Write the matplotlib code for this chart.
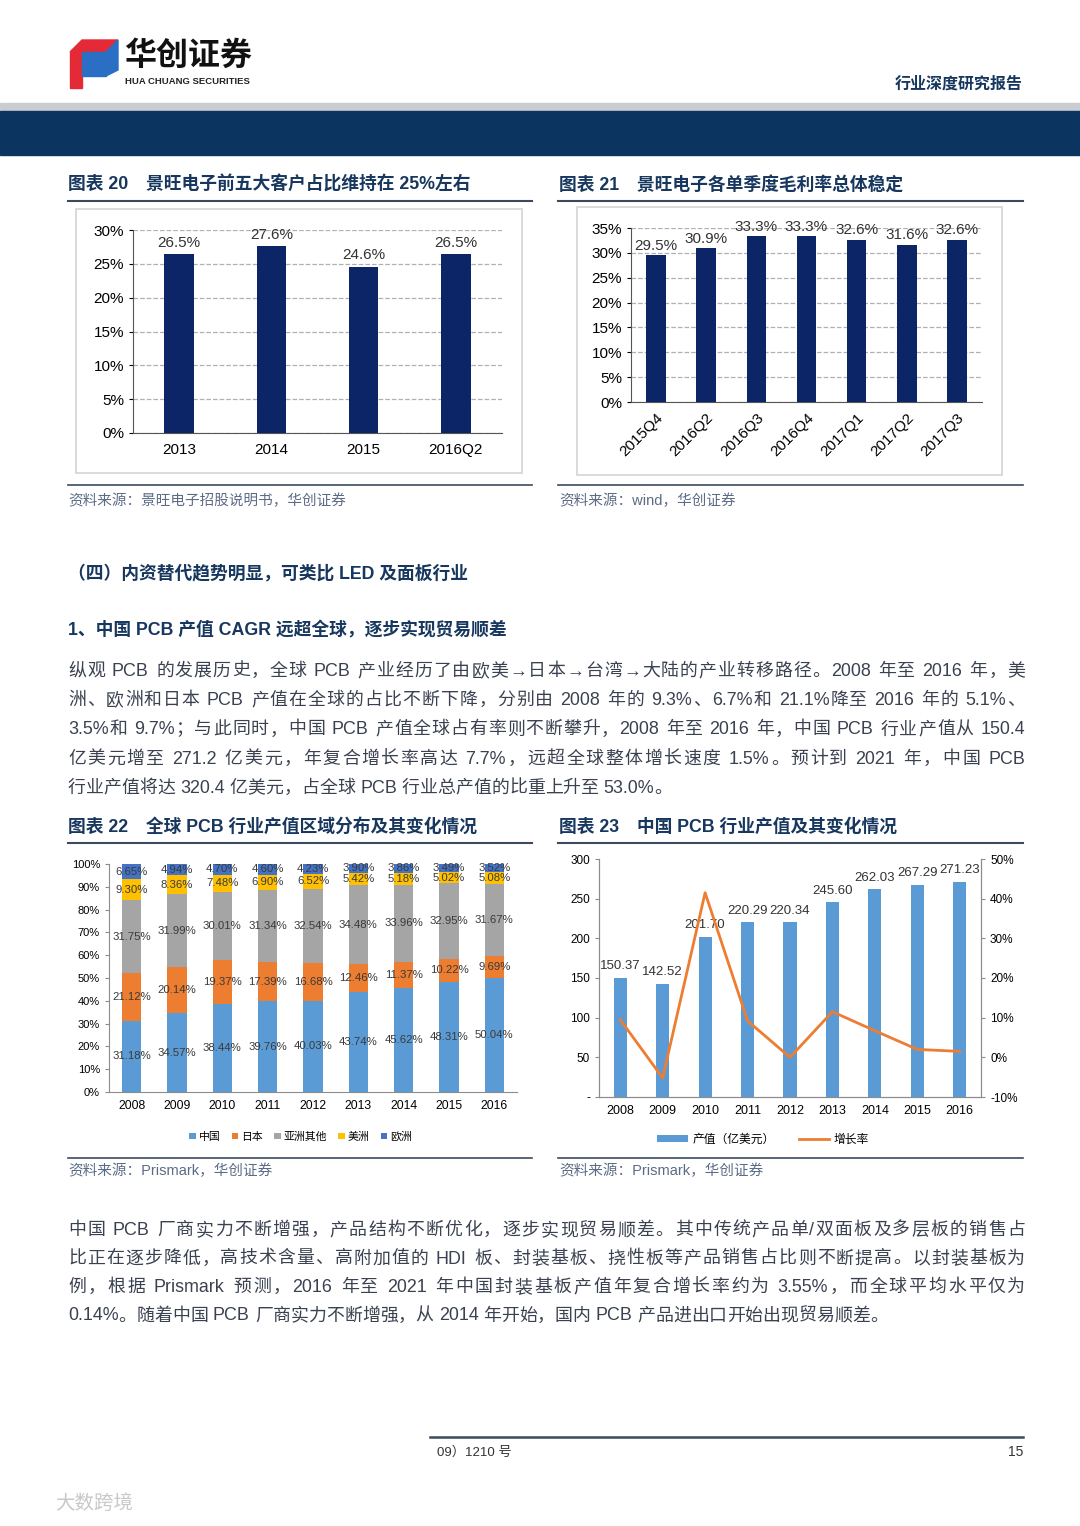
import matplotlib
matplotlib.use('Agg')
import matplotlib.pyplot as plt
from matplotlib.patches import Rectangle, Polygon
from matplotlib.lines import Line2D
from matplotlib.ticker import FuncFormatter

plt.rcParams['font.family'] = ['Liberation Sans', 'Noto Sans CJK SC', 'DejaVu Sans']

# ---- data ----
top_years = ['2013', '2014', '2015', '2016Q2']
top_share = [26.5, 27.6, 24.6, 26.5]

quarters = ['2015Q4', '2016Q2', '2016Q3', '2016Q4', '2017Q1', '2017Q2', '2017Q3']
gross_margin = [29.5, 30.9, 33.3, 33.3, 32.6, 31.6, 32.6]

years = ['2008', '2009', '2010', '2011', '2012', '2013', '2014', '2015', '2016']
regions = ['中国', '日本', '亚洲其他', '美洲', '欧洲']
china = [31.18, 34.57, 38.44, 39.76, 40.03, 43.74, 45.62, 48.31, 50.04]
japan = [21.12, 20.14, 19.37, 17.39, 16.68, 12.46, 11.37, 10.22, 9.69]
asia_other = [31.75, 31.99, 30.01, 31.34, 32.54, 34.48, 33.96, 32.95, 31.67]
america = [9.30, 8.36, 7.48, 6.90, 6.52, 5.42, 5.18, 5.02, 5.08]
europe = [6.65, 4.94, 4.70, 4.60, 4.23, 3.90, 3.86, 3.49, 3.52]
region_colors = ['#5b9bd5', '#ed7d31', '#a5a5a5', '#ffc000', '#4472c4']

cn_output = [150.37, 142.52, 201.70, 220.29, 220.34, 245.60, 262.03, 267.29, 271.23]
cn_growth = [9.5, -5.2, 41.5, 9.2, 0.0, 11.5, 6.7, 2.0, 1.5]

para1 = [
    '纵观 PCB 的发展历史，全球 PCB 产业经历了由欧美→日本→台湾→大陆的产业转移路径。2008 年至 2016 年，美',
    '洲、欧洲和日本 PCB 产值在全球的占比不断下降，分别由 2008 年的 9.3%、6.7%和 21.1%降至 2016 年的 5.1%、',
    '3.5%和 9.7%；与此同时，中国 PCB 产值全球占有率则不断攀升，2008 年至 2016 年，中国 PCB 行业产值从 150.4',
    '亿美元增至 271.2 亿美元，年复合增长率高达 7.7%，远超全球整体增长速度 1.5%。预计到 2021 年，中国 PCB',
    '行业产值将达 320.4 亿美元，占全球 PCB 行业总产值的比重上升至 53.0%。',
]
para2 = [
    '中国 PCB 厂商实力不断增强，产品结构不断优化，逐步实现贸易顺差。其中传统产品单/双面板及多层板的销售占',
    '比正在逐步降低，高技术含量、高附加值的 HDI 板、封装基板、挠性板等产品销售占比则不断提高。以封装基板为',
    '例，根据 Prismark 预测，2016 年至 2021 年中国封装基板产值年复合增长率约为 3.55%，而全球平均水平仅为',
    '0.14%。随着中国 PCB 厂商实力不断增强，从 2014 年开始，国内 PCB 产品进出口开始出现贸易顺差。',
]

W, H = 1080, 1526
NAVY = '#17375e'
BAR_NAVY = '#0c2567'
TEXT = '#3a4150'
SRC = '#5c6b86'

fig = plt.figure(figsize=(W / 100, H / 100), dpi=100)
renderer = fig.canvas.get_renderer()


def fx(x):
    return x / W


def fy(y):
    return 1 - y / H


def rect(l, t, r, b):
    return [l / W, 1 - b / H, (r - l) / W, (b - t) / H]


def txt(x, y, s, **kw):
    kw.setdefault('va', 'center')
    fig.text(fx(x), fy(y), s, **kw)


def hline(x0, x1, y, color, lw):
    fig.add_artist(Line2D([fx(x0), fx(x1)], [fy(y), fy(y)], color=color, lw=lw))


def box(l, t, r, b, color='#d4d4d4'):
    fig.add_artist(Rectangle((fx(l), fy(b)), fx(r - l), (b - t) / H,
                             fill=False, ec=color, lw=1.2))


def tokens(line):
    # latin runs stay together, every CJK sign and space is its own token
    out, run = [], ''
    for c in line:
        if ord(c) < 128 and c != ' ':
            run += c
        else:
            if run:
                out.append(run)
                run = ''
            out.append(c)
    if run:
        out.append(run)
    return out


def width(s, **kw):
    t = fig.text(0, 0, s, **kw)
    w = t.get_window_extent(renderer).width
    t.remove()
    return w


def paragraph(lines, x0, x1, y0, step, **kw):
    for k, line in enumerate(lines):
        y = y0 + k * step + 6
        toks = tokens(line)
        ws = [width(t, **kw) if t != ' ' else width('a a', **kw) - width('aa', **kw)
              for t in toks]
        last = k == len(lines) - 1
        extra = 0 if last else (x1 - x0 - sum(ws)) / (len(toks) - 1)
        x = x0
        for t, w in zip(toks, ws):
            if t != ' ':
                fig.text(fx(x), fy(y), t, va='baseline', **kw)
            x += w + extra


# ---- header ----
fig.add_artist(Polygon([(fx(70), fy(52)), (fx(82), fy(40)), (fx(118), fy(40)),
                        (fx(106), fy(52))], closed=True, color='#e32a36'))
fig.add_artist(Polygon([(fx(70), fy(52)), (fx(82), fy(52)), (fx(82), fy(88)),
                        (fx(70), fy(88))], closed=True, color='#e32a36'))
fig.add_artist(Polygon([(fx(82), fy(52)), (fx(106), fy(52)), (fx(106), fy(76)),
                        (fx(82), fy(76))], closed=True, color='#2a6fc4'))
fig.add_artist(Polygon([(fx(106), fy(52)), (fx(118), fy(40)), (fx(118), fy(70)),
                        (fx(106), fy(76))], closed=True, color='#2a6fc4'))
txt(124, 57, '华创证券', fontsize=23, fontweight='bold', color='#111111')
txt(125, 81, 'HUA CHUANG SECURITIES', fontsize=6.8, fontweight='bold', color='#222222')
txt(1023, 84, '行业深度研究报告', fontsize=11.5, fontweight='bold', color=NAVY, ha='right')
fig.add_artist(Rectangle((0, fy(111)), 1, 8 / H, color='#c9cdd2'))
fig.add_artist(Rectangle((0, fy(155)), 1, 44 / H, color='#0c3461'))

# ---- chart titles row 1 ----
txt(68, 185, '图表 20　景旺电子前五大客户占比维持在 25%左右', fontsize=12.8,
    fontweight='bold', color=NAVY)
txt(559, 185, '图表 21　景旺电子各单季度毛利率总体稳定', fontsize=12.8,
    fontweight='bold', color=NAVY)
hline(68, 532, 201, '#3c4a5e', 1.5)
hline(558, 1023, 201, '#3c4a5e', 1.5)

pct = FuncFormatter(lambda v, p: f'{v:.0f}%')

# chart 20
box(76, 209, 522, 473)
ax1 = fig.add_axes(rect(133, 230, 502, 433))
x1 = range(len(top_years))
ax1.bar(x1, top_share, width=0.32, color=BAR_NAVY, zorder=3)
for i, v in enumerate(top_share):
    ax1.annotate(f'{v}%', (i, v), xytext=(0, 3), textcoords='offset points',
                 ha='center', va='bottom', fontsize=11, color='#333333')
ax1.set_xlim(-0.5, 3.5)
ax1.set_ylim(0, 30)
ax1.set_yticks(range(0, 31, 5))
ax1.yaxis.set_major_formatter(pct)
ax1.set_xticks(list(x1))
ax1.set_xticklabels(top_years)
ax1.grid(axis='y', linestyle='--', color='#b0b0b0', lw=0.9)
for s in ['top', 'right']:
    ax1.spines[s].set_visible(False)
for s in ['left', 'bottom']:
    ax1.spines[s].set_color('#555555')
ax1.tick_params(axis='x', length=0, labelsize=11, pad=7)
ax1.tick_params(axis='y', length=3, labelsize=11)

# chart 21
box(577, 207, 1002, 475)
ax2 = fig.add_axes(rect(631, 228, 982, 402))
x2 = range(len(quarters))
ax2.bar(x2, gross_margin, width=0.39, color=BAR_NAVY, zorder=3)
for i, v in enumerate(gross_margin):
    ax2.annotate(f'{v}%', (i, v), xytext=(0, 2), textcoords='offset points',
                 ha='center', va='bottom', fontsize=11, color='#333333')
ax2.set_xlim(-0.5, 6.5)
ax2.set_ylim(0, 35)
ax2.set_yticks(range(0, 36, 5))
ax2.yaxis.set_major_formatter(pct)
ax2.set_xticks(list(x2))
ax2.set_xticklabels(quarters, rotation=45, ha='right', rotation_mode='anchor')
ax2.grid(axis='y', linestyle='--', color='#b0b0b0', lw=0.9)
for s in ['top', 'right']:
    ax2.spines[s].set_visible(False)
for s in ['left', 'bottom']:
    ax2.spines[s].set_color('#555555')
ax2.tick_params(axis='x', length=0, labelsize=11, pad=6)
ax2.tick_params(axis='y', length=3, labelsize=11)

hline(68, 532, 485, '#3c4a5e', 1.2)
hline(558, 1023, 485, '#3c4a5e', 1.2)
txt(68, 501, '资料来源：景旺电子招股说明书，华创证券', fontsize=10.5, color=SRC)
txt(559, 501, '资料来源：wind，华创证券', fontsize=10.5, color=SRC)

# ---- section text ----
txt(68, 574, '（四）内资替代趋势明显，可类比 LED 及面板行业', fontsize=12.8,
    fontweight='bold', color=NAVY)
txt(68, 630, '1、中国 PCB 产值 CAGR 远超全球，逐步实现贸易顺差', fontsize=12.8,
    fontweight='bold', color=NAVY)
paragraph(para1, 68, 1025, 670, 29.2, fontsize=12.9, color=TEXT)

# ---- chart titles row 2 ----
txt(68, 827, '图表 22　全球 PCB 行业产值区域分布及其变化情况', fontsize=12.8,
    fontweight='bold', color=NAVY)
txt(559, 827, '图表 23　中国 PCB 行业产值及其变化情况', fontsize=12.8,
    fontweight='bold', color=NAVY)
hline(68, 532, 843, '#3c4a5e', 1.5)
hline(558, 1023, 843, '#3c4a5e', 1.5)

# chart 22
ax3 = fig.add_axes(rect(109, 864, 517, 1092))
x3 = list(range(len(years)))
bottom = [0] * len(years)
for name, vals, col in zip(regions, [china, japan, asia_other, america, europe], region_colors):
    ax3.bar(x3, vals, width=0.42, bottom=bottom, color=col, label=name, zorder=3)
    for i, v in enumerate(vals):
        ax3.text(i, bottom[i] + v / 2, f'{v:.2f}%', ha='center', va='center',
                 fontsize=8.2, color='#3a3a3a', zorder=4)
    bottom = [b + v for b, v in zip(bottom, vals)]
ax3.set_xlim(-0.5, 8.5)
ax3.set_ylim(0, 100)
ax3.set_yticks(range(0, 101, 10))
ax3.yaxis.set_major_formatter(pct)
ax3.set_xticks(x3)
ax3.set_xticklabels(years)
for s in ['top', 'right']:
    ax3.spines[s].set_visible(False)
for s in ['left', 'bottom']:
    ax3.spines[s].set_color('#8c8c8c')
ax3.tick_params(axis='x', length=0, labelsize=8.8, pad=6)
ax3.tick_params(axis='y', length=3, labelsize=8, color='#8c8c8c')
ax3.legend(loc='upper center', bbox_to_anchor=(0.47, -0.13), ncol=5, fontsize=7.8,
           frameon=False, handlelength=0.6, handleheight=0.6, handletextpad=0.3,
           columnspacing=1.0)

# chart 23
ax4 = fig.add_axes(rect(599, 859, 981, 1097))
x4 = list(range(len(years)))
ax4.bar(x4, cn_output, width=0.31, color='#5b9bd5', label='产值（亿美元）', zorder=3)
for i, v in enumerate(cn_output):
    ax4.annotate(f'{v:.2f}', (i, v), xytext=(0, 4), textcoords='offset points',
                 ha='center', va='bottom', fontsize=9.5, color='#333333', zorder=5)
ax4.set_xlim(-0.5, 8.5)
ax4.set_ylim(0, 300)
ax4.set_yticks(range(0, 301, 50))
ax4.yaxis.set_major_formatter(FuncFormatter(lambda v, p: '-' if v == 0 else f'{v:.0f}'))
ax4.set_xticks(x4)
ax4.set_xticklabels(years)
ax4b = ax4.twinx()
ax4b.plot(x4, cn_growth, color='#ed7d31', lw=2, label='增长率', zorder=4)
ax4b.set_ylim(-10, 50)
ax4b.set_yticks(range(-10, 51, 10))
ax4b.yaxis.set_major_formatter(pct)
for a in (ax4, ax4b):
    a.spines['top'].set_visible(False)
    for s in ['left', 'right', 'bottom']:
        a.spines[s].set_color('#8c8c8c')
ax4.tick_params(axis='x', length=0, labelsize=9, pad=6)
ax4.tick_params(axis='y', length=3, labelsize=8.5, color='#8c8c8c')
ax4b.tick_params(axis='y', length=3, labelsize=8.5, color='#8c8c8c')
h1, l1 = ax4.get_legend_handles_labels()
h2, l2 = ax4b.get_legend_handles_labels()
ax4.legend(h1 + h2, l1 + l2, loc='upper center', bbox_to_anchor=(0.43, -0.11), ncol=2,
           fontsize=8.5, frameon=False, handlelength=2.6, handleheight=0.45,
           columnspacing=2.0, handletextpad=0.4)

hline(68, 532, 1158, '#3c4a5e', 1.2)
hline(558, 1023, 1158, '#3c4a5e', 1.2)
txt(68, 1171, '资料来源：Prismark，华创证券', fontsize=10.5, color=SRC)
txt(559, 1171, '资料来源：Prismark，华创证券', fontsize=10.5, color=SRC)

paragraph(para2, 68, 1025, 1229, 28.5, fontsize=12.9, color=TEXT)

# ---- footer ----
hline(430, 1023, 1437, '#3c4a5e', 1.8)
txt(437, 1452, '09）1210 号', fontsize=9.5, color='#333333')
txt(1023, 1452, '15', fontsize=10, color='#333333', ha='right')
txt(55, 1504, '大数跨境', fontsize=14, color='#c8c8c8')

fig.savefig('out.png', dpi=100)
